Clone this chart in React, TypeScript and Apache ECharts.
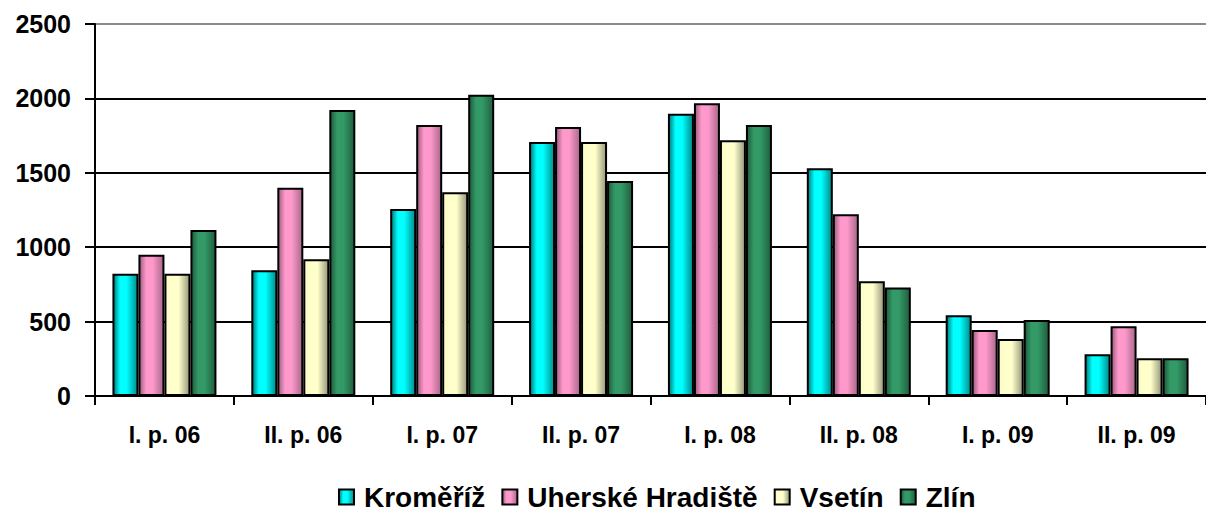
import React, { useEffect, useRef } from "react";
import * as echarts from "echarts";

const categories = ["I. p. 06", "II. p. 06", "I. p. 07", "II. p. 07", "I. p. 08", "II. p. 08", "I. p. 09", "II. p. 09"];
const kromeriz = [822, 845, 1257, 1707, 1897, 1530, 542, 280];
const uherskeHradiste = [950, 1400, 1821, 1808, 1967, 1221, 443, 468];
const vsetin = [822, 919, 1369, 1707, 1718, 771, 383, 253];
const zlin = [1116, 1922, 2025, 1445, 1821, 730, 511, 253];
const seriesNames = ["Kroměříž", "Uherské Hradiště", "Vsetín", "Zlín"];
const yTicks = { min: 0, max: 2500, interval: 500 };

const FONT = "'Liberation Sans', Arial, Helvetica, sans-serif";

function grad(dark: string, base: string, darkR: string) {
  return new echarts.graphic.LinearGradient(0, 0, 1, 0, [
    { offset: 0, color: dark },
    { offset: 0.28, color: base },
    { offset: 0.55, color: base },
    { offset: 1, color: darkR },
  ]);
}

export default function App() {
  const ref = useRef<HTMLDivElement>(null);
  useEffect(() => {
    if (!ref.current) return;
    const chart = echarts.init(ref.current, undefined, { renderer: "svg" });
    const fills = [
      grad("#007a7a", "#00ffff", "#008c8c"),
      grad("#9a5c7c", "#ff99cc", "#a8688a"),
      grad("#fbfbc8", "#ffffcc", "#97977a"),
      grad("#1d5a3b", "#339966", "#1f5e3f"),
    ];
    const dataSets = [kromeriz, uherskeHradiste, vsetin, zlin];
    chart.setOption({
      animation: false,
      backgroundColor: "#ffffff",
      grid: { left: 95, right: 0, top: 24, bottom: 127, containLabel: false },
      legend: {
        show: true,
        top: 478,
        left: 333,
        itemWidth: 15,
        itemHeight: 15,
        itemGap: 16,
        icon: "rect",
        textStyle: {
          fontFamily: FONT,
          fontWeight: "bold",
          fontSize: 28,
          color: "#000",
          padding: [0, 0, 0, 5],
        },
        data: seriesNames,
      },
      xAxis: {
        type: "category",
        data: categories,
        axisLine: { show: true, lineStyle: { color: "#000", width: 2 } },
        axisTick: { show: true, length: 9, lineStyle: { color: "#000", width: 2 } },
        axisLabel: {
          margin: 27,
          fontFamily: FONT,
          fontWeight: "bold",
          fontSize: 23,
          color: "#000",
        },
        splitLine: { show: false },
      },
      yAxis: {
        type: "value",
        min: yTicks.min,
        max: yTicks.max,
        interval: yTicks.interval,
        axisLine: { show: true, lineStyle: { color: "#000", width: 2 } },
        axisTick: { show: true, length: 10, lineStyle: { color: "#000", width: 2 } },
        axisLabel: {
          margin: 24,
          fontFamily: FONT,
          fontWeight: "bold",
          fontSize: 25,
          color: "#000",
          formatter: (v: number) => String(v),
        },
        splitLine: {
          show: true,
          lineStyle: {
            color: ["#000", "#000", "#000", "#000", "#000", "#8a8a8a"],
            width: 2,
          },
        },
      },
      series: seriesNames.map((name, i) => ({
        name,
        type: "bar",
        data: dataSets[i],
        barWidth: 26,
        barGap: "0%",
        itemStyle: {
          color: fills[i],
          borderColor: "#000",
          borderWidth: 2,
        },
      })),
    });
    return () => chart.dispose();
  }, []);
  return (
    <div
      ref={ref}
      style={{ position: "absolute", left: 0, top: 0, width: 1206, height: 523 }}
    />
  );
}
